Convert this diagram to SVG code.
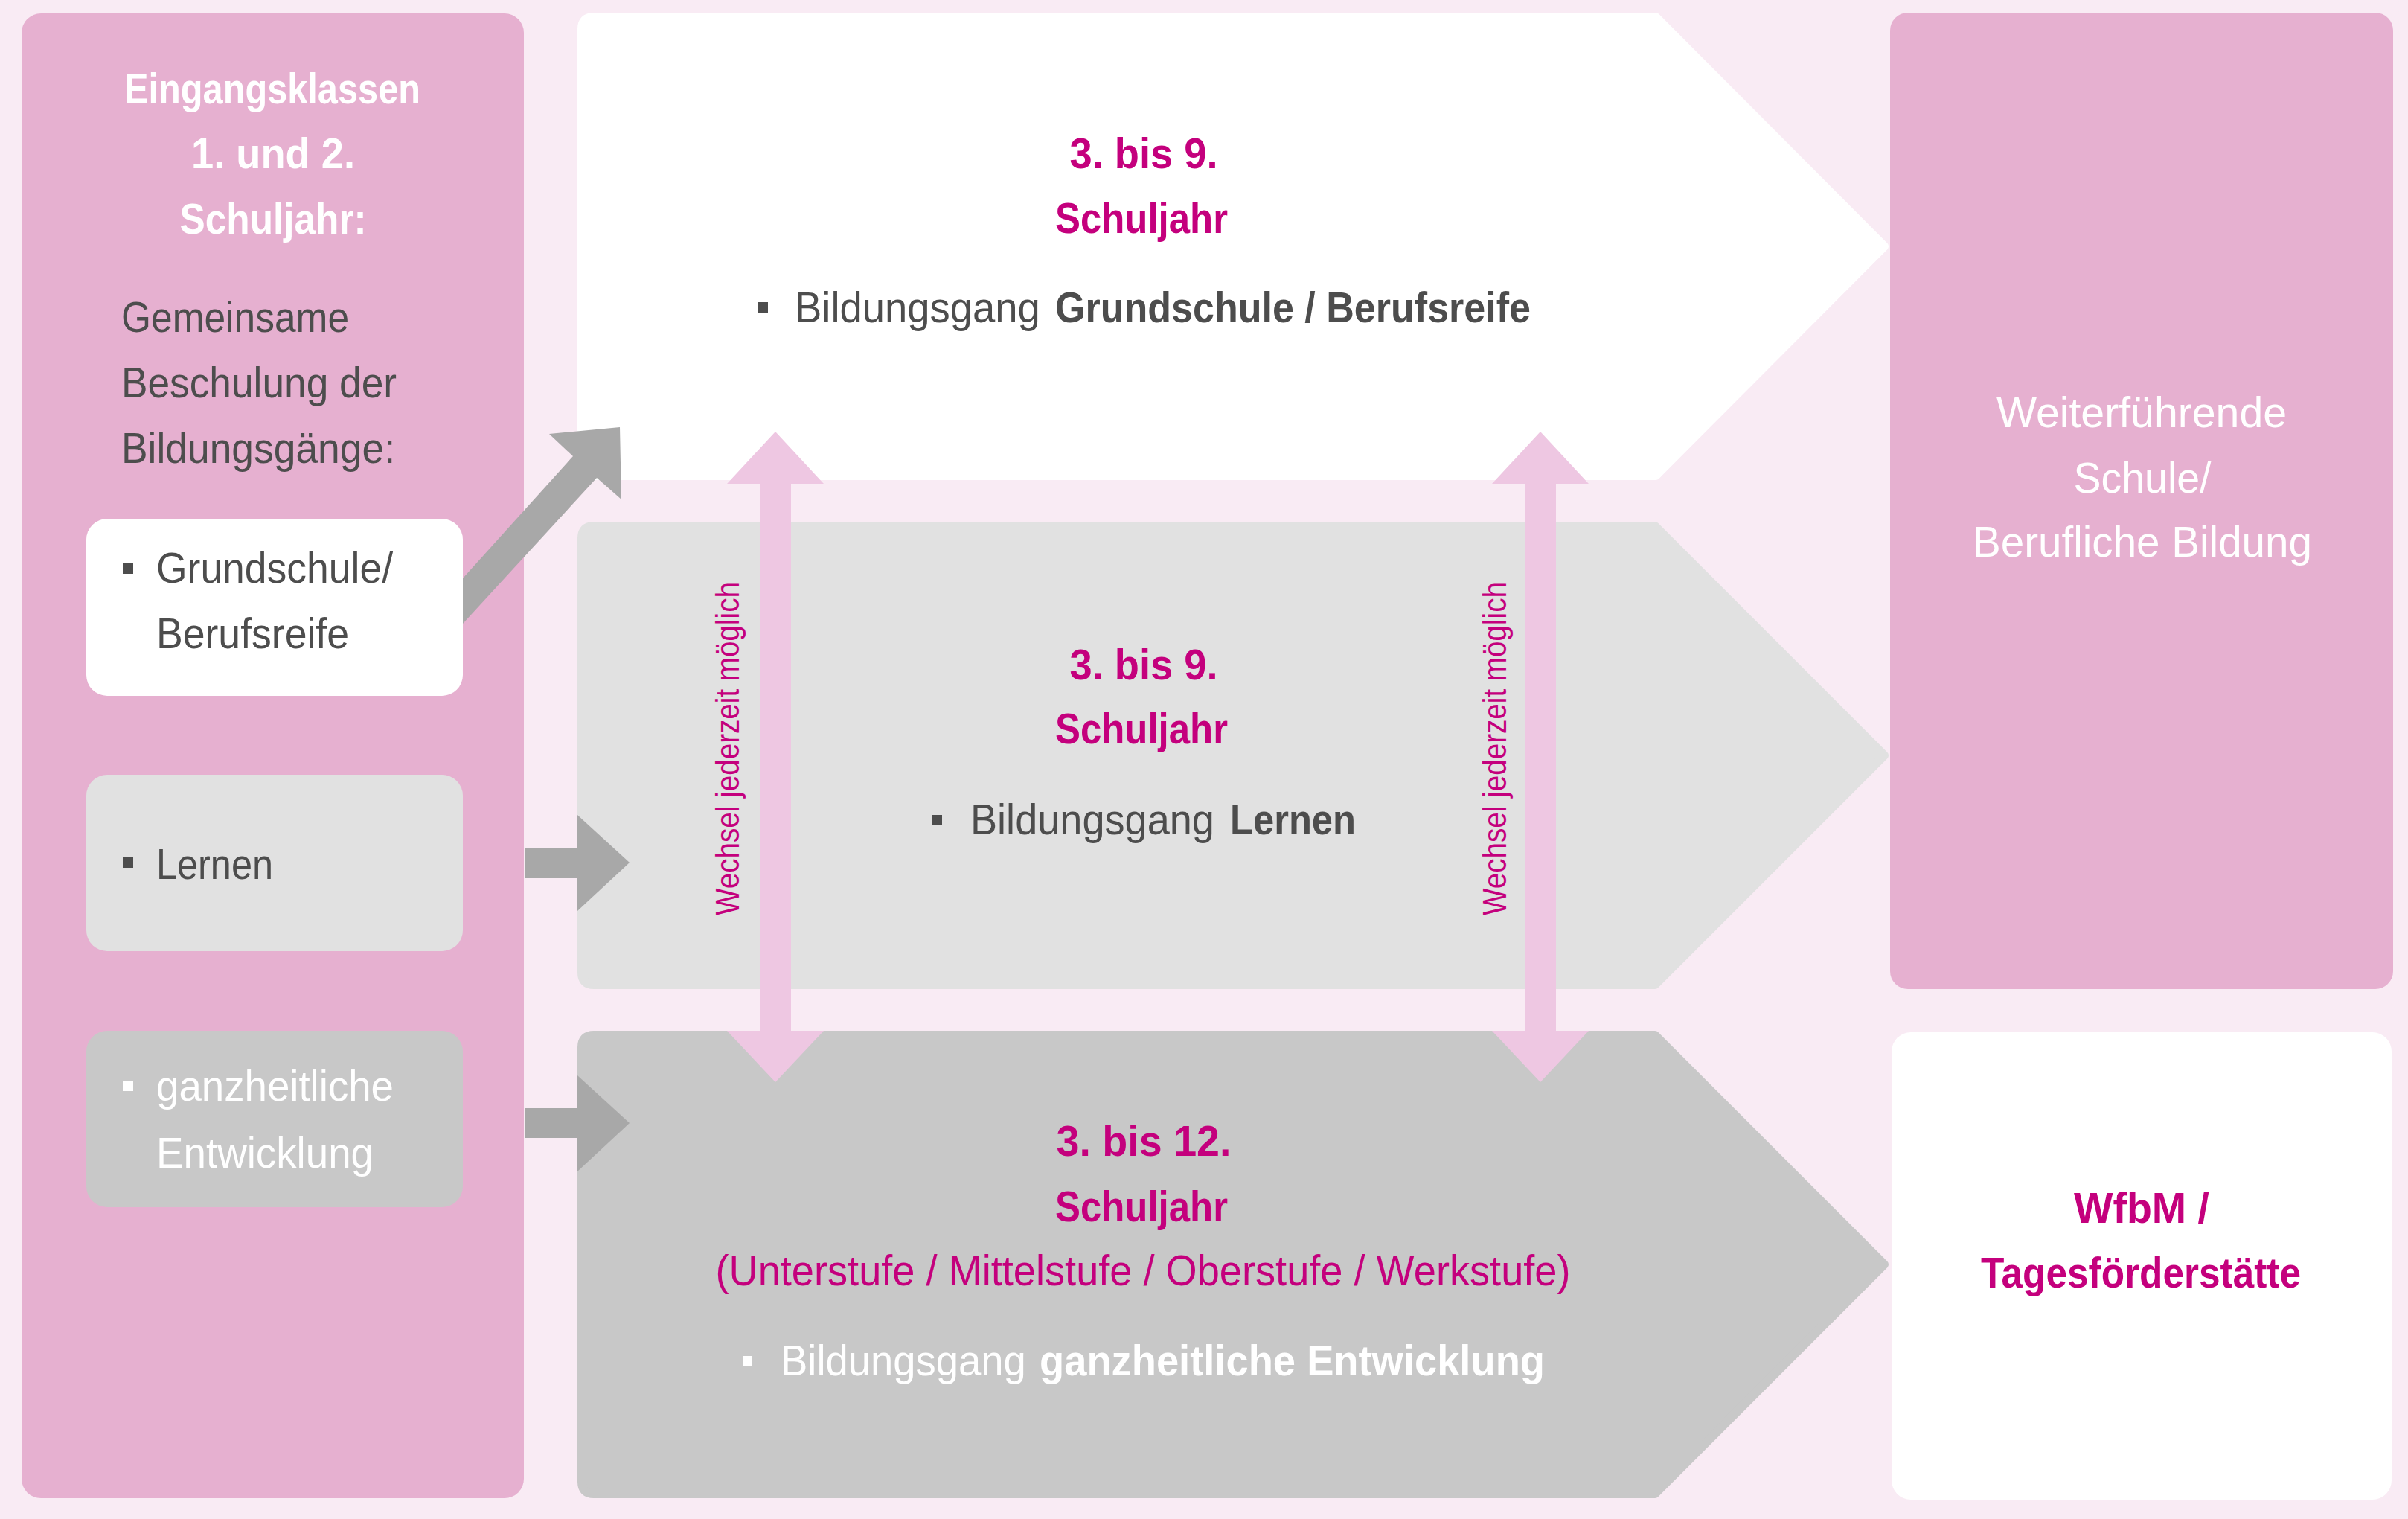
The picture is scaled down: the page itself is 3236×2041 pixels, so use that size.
<svg xmlns="http://www.w3.org/2000/svg" width="3236" height="2041" viewBox="0 0 3236 2041">
<style>
text{font-family:"Liberation Sans",Arial,sans-serif;}
.reg{font-size:58px;font-weight:normal;}
.bold{font-size:58px;font-weight:bold;}
.mag{fill:#C4007D;}
.dark{fill:#4D4D4D;}
.wht{fill:#FFFFFF;}
.mid{text-anchor:middle;}
.pinkpanel{fill:#E6B0D0;}
.chev{stroke-width:12;stroke-linejoin:round;}
.garrow{fill:#A8A8A8;}
.parrow{fill:#EEC7E2;}
.vlabel{font-size:44px;fill:#C4007D;}
</style>
<rect x="0" y="0" width="3236" height="2041" fill="#F9EBF4"/>

<g id="eingangsklassen">
<rect class="pinkpanel" x="29" y="18" width="675" height="1995" rx="26"/>
<text class="bold wht mid" x="366" y="139" textLength="398" lengthAdjust="spacingAndGlyphs">Eingangsklassen</text>
<text class="bold wht mid" x="367" y="226" textLength="220" lengthAdjust="spacingAndGlyphs">1. und 2.</text>
<text class="bold wht mid" x="367" y="314" textLength="251" lengthAdjust="spacingAndGlyphs">Schuljahr:</text>
<text class="reg dark" x="163" y="446" textLength="306" lengthAdjust="spacingAndGlyphs">Gemeinsame</text>
<text class="reg dark" x="163" y="534" textLength="370" lengthAdjust="spacingAndGlyphs">Beschulung der</text>
<text class="reg dark" x="163" y="622" textLength="368" lengthAdjust="spacingAndGlyphs">Bildungsgänge:</text>
</g>

<g id="box-grundschule">
<rect x="116" y="697" width="506" height="238" rx="28" fill="#FFFFFF"/>
<rect x="165" y="757" width="14" height="14" fill="#4D4D4D"/>
<text class="reg dark" x="210" y="783" textLength="318" lengthAdjust="spacingAndGlyphs">Grundschule/</text>
<text class="reg dark" x="210" y="871" textLength="259" lengthAdjust="spacingAndGlyphs">Berufsreife</text>
</g>

<g id="box-lernen">
<rect x="116" y="1041" width="506" height="237" rx="28" fill="#E1E1E1"/>
<rect x="165" y="1152" width="14" height="14" fill="#4D4D4D"/>
<text class="reg dark" x="210" y="1181" textLength="157" lengthAdjust="spacingAndGlyphs">Lernen</text>
</g>

<g id="box-ganzheitlich">
<rect x="116" y="1385" width="506" height="237" rx="28" fill="#C8C8C8"/>
<rect x="165" y="1452" width="14" height="14" fill="#FFFFFF"/>
<text class="reg wht" x="210" y="1479" textLength="319" lengthAdjust="spacingAndGlyphs">ganzheitliche</text>
<text class="reg wht" x="210" y="1569" textLength="292" lengthAdjust="spacingAndGlyphs">Entwicklung</text>
</g>

<g id="chevron-grundschule">
<path class="chev" fill="#FFFFFF" stroke="#FFFFFF" d="M 798 23 H 2225 L 2532 331 L 2225 639 H 798 Q 782 639 782 623 V 39 Q 782 23 798 23 Z"/>
<text class="bold mag mid" x="1537" y="226" textLength="199" lengthAdjust="spacingAndGlyphs">3. bis 9.</text>
<text class="bold mag mid" x="1534" y="313" textLength="232" lengthAdjust="spacingAndGlyphs">Schuljahr</text>
<rect x="1018" y="406" width="14" height="14" fill="#4D4D4D"/>
<text class="reg dark" y="433"><tspan x="1068" textLength="345" lengthAdjust="spacingAndGlyphs">Bildungsgang </tspan><tspan class="bold" x="1418" textLength="639" lengthAdjust="spacingAndGlyphs">Grundschule / Berufsreife</tspan></text>
</g>

<g id="chevron-lernen">
<path class="chev" fill="#E1E1E1" stroke="#E1E1E1" d="M 798 707 H 2224 L 2532 1015 L 2224 1323 H 798 Q 782 1323 782 1307 V 723 Q 782 707 798 707 Z"/>
<text class="bold mag mid" x="1537" y="913" textLength="199" lengthAdjust="spacingAndGlyphs">3. bis 9.</text>
<text class="bold mag mid" x="1534" y="999" textLength="232" lengthAdjust="spacingAndGlyphs">Schuljahr</text>
<rect x="1252" y="1095" width="14" height="14" fill="#4D4D4D"/>
<text class="reg dark" y="1121"><tspan x="1304" textLength="343" lengthAdjust="spacingAndGlyphs">Bildungsgang </tspan><tspan class="bold" x="1653" textLength="169" lengthAdjust="spacingAndGlyphs">Lernen</tspan></text>
</g>

<g id="chevron-ganzheitlich">
<path class="chev" fill="#C8C8C8" stroke="#C8C8C8" d="M 798 1391 H 2224 L 2532 1699 L 2224 2007 H 798 Q 782 2007 782 1991 V 1407 Q 782 1391 798 1391 Z"/>
<text class="bold mag mid" x="1537" y="1553" textLength="235" lengthAdjust="spacingAndGlyphs">3. bis 12.</text>
<text class="bold mag mid" x="1534" y="1641" textLength="232" lengthAdjust="spacingAndGlyphs">Schuljahr</text>
<text class="reg mag mid" x="1536" y="1727" textLength="1149" lengthAdjust="spacingAndGlyphs">(Unterstufe / Mittelstufe / Oberstufe / Werkstufe)</text>
<rect x="998" y="1822" width="13" height="13" fill="#FFFFFF"/>
<text class="reg wht" y="1848"><tspan x="1049" textLength="345" lengthAdjust="spacingAndGlyphs">Bildungsgang </tspan><tspan class="bold" x="1397" textLength="679" lengthAdjust="spacingAndGlyphs">ganzheitliche Entwicklung</tspan></text>
</g>

<g id="weiterfuehrende">
<rect class="pinkpanel" x="2540" y="17" width="676" height="1312" rx="24"/>
<text class="reg wht mid" x="2878" y="574" textLength="390" lengthAdjust="spacingAndGlyphs">Weiterführende</text>
<text class="reg wht mid" x="2879" y="662" textLength="185" lengthAdjust="spacingAndGlyphs">Schule/</text>
<text class="reg wht mid" x="2879" y="748" textLength="456" lengthAdjust="spacingAndGlyphs">Berufliche Bildung</text>
</g>

<g id="wfbm">
<rect x="2542" y="1387" width="672" height="628" rx="26" fill="#FFFFFF"/>
<text class="bold mag mid" x="2878" y="1643" textLength="182" lengthAdjust="spacingAndGlyphs">WfbM /</text>
<text class="bold mag mid" x="2877" y="1730" textLength="430" lengthAdjust="spacingAndGlyphs">Tagesförderstätte</text>
</g>

<g id="connectors">
<polygon class="garrow" points="622,777 770,613 738,583 833,574 835,671 802,642 622,838"/>
<polygon class="garrow" points="706,1139 776,1139 776,1095 846,1159 776,1224 776,1180 706,1180"/>
<polygon class="garrow" points="706,1489 776,1489 776,1445 846,1509 776,1574 776,1529 706,1529"/>
<polygon class="parrow" points="1042,580 1107,650 1063,650 1063,1385 1107,1385 1042,1454 977,1385 1021,1385 1021,650 977,650"/>
<polygon class="parrow" points="2070,580 2135,650 2091,650 2091,1385 2135,1385 2070,1454 2005,1385 2049,1385 2049,650 2005,650"/>
<text class="vlabel" transform="translate(993,1230) rotate(-90)" x="0" y="0" textLength="448" lengthAdjust="spacingAndGlyphs">Wechsel jederzeit möglich</text>
<text class="vlabel" transform="translate(2024,1230) rotate(-90)" x="0" y="0" textLength="448" lengthAdjust="spacingAndGlyphs">Wechsel jederzeit möglich</text>
</g>
</svg>
